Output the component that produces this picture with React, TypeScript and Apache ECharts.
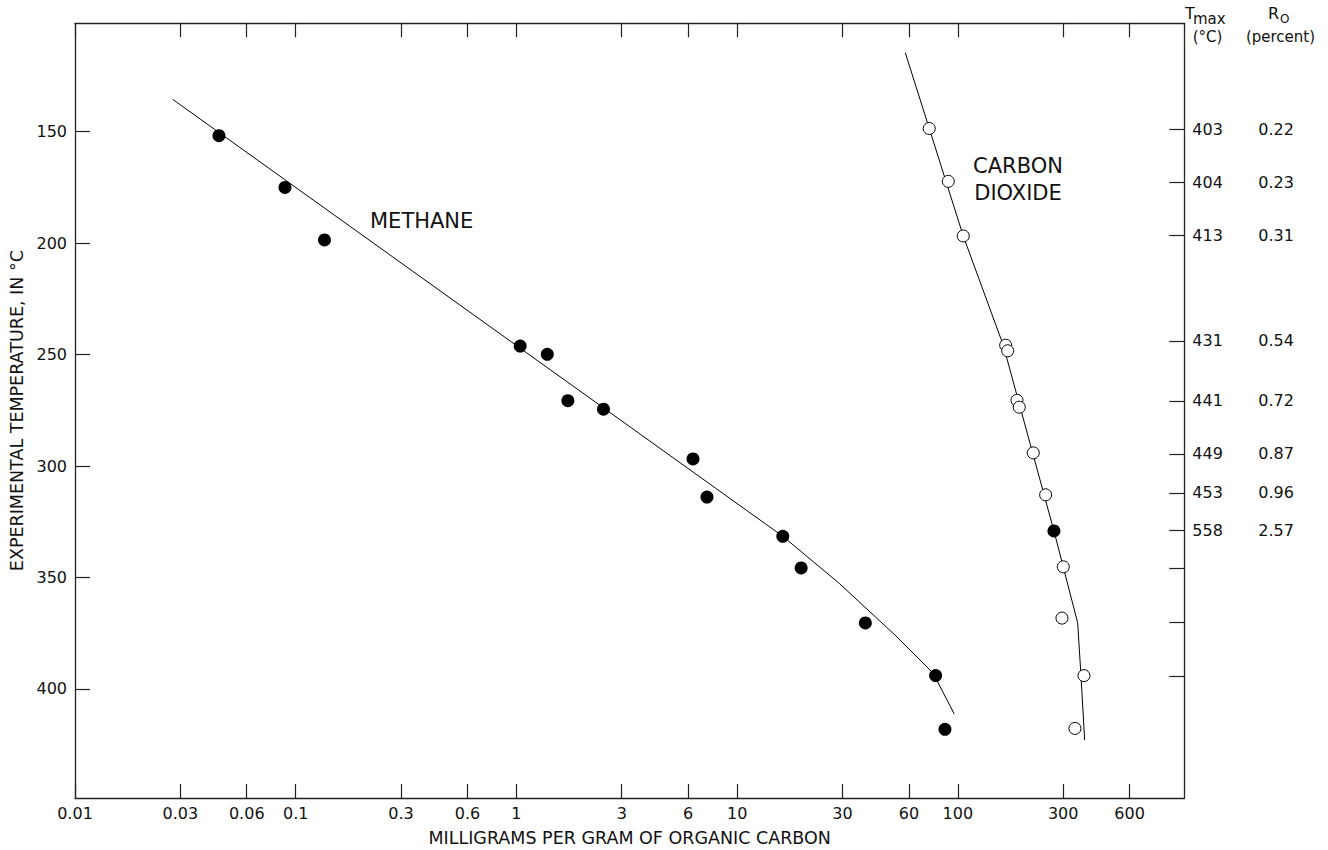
import React, { useEffect, useRef } from "react";
import * as echarts from "echarts";

// ---- Axis ticks ----
const xTickValues = [0.01, 0.03, 0.06, 0.1, 0.3, 0.6, 1, 3, 6, 10, 30, 60, 100, 300, 600];
const xTickLabels = ["0.01", "0.03", "0.06", "0.1", "0.3", "0.6", "1", "3", "6", "10", "30", "60", "100", "300", "600"];
const yTickValues = [150, 200, 250, 300, 350, 400];

// ---- Methane (filled dots) ----
const methaneMg = [0.0449, 0.0894, 0.135, 1.04, 1.38, 1.71, 2.48, 6.31, 7.3, 16.1, 19.5, 38.1, 79.3, 87.4];
const methaneTemp = [151.8, 175.0, 198.6, 246.2, 249.9, 270.7, 274.5, 296.8, 313.9, 331.5, 345.7, 370.4, 394.0, 418.1];
// Methane fitted curve
const methaneFitMg = [0.0277, 16.1, 29.0, 51.9, 77.4, 96.3];
const methaneFitTemp = [135.5, 331.5, 352.6, 375.8, 393.0, 411.2];

// ---- Carbon dioxide (open circles, one filled) ----
const co2OpenMg = [74.2, 90.5, 105.8, 164.7, 168.2, 185.3, 189.8, 219.6, 249.9, 300.4, 296.3, 372.7, 339.3];
const co2OpenTemp = [148.6, 172.3, 196.8, 245.8, 248.3, 270.5, 273.6, 294.1, 312.9, 345.2, 368.2, 394.0, 417.7];
const co2FilledMg = [272.5];
const co2FilledTemp = [329.1];
// CO2 fitted curve
const co2FitMg = [57.8, 105.8, 160.6, 272.5, 349.0, 361.3, 375.4];
const co2FitTemp = [114.6, 196.8, 245.8, 329.1, 370.3, 394.0, 422.9];

// ---- Right-hand scale: sample temperatures with Tmax and Ro ----
const sampleTemps = [148.9, 172.9, 196.4, 243.9, 270.8, 294.5, 312.0, 328.7, 345.9, 370.0, 394.2];
const tmaxLabels = ["403", "404", "413", "431", "441", "449", "453", "558"];
const roLabels = ["0.22", "0.23", "0.31", "0.54", "0.72", "0.87", "0.96", "2.57"];

const FONT = "DejaVu Sans";
const INK = "#111";
const LINE = "#222";

export default function App() {
  const ref = useRef<HTMLDivElement>(null);

  useEffect(() => {
    document.body.style.margin = "0";
    if (!ref.current) return;
    const chart = echarts.init(ref.current, undefined, { renderer: "svg" });

    const xLog = xTickValues.map((v) => Math.log10(v));
    const xFmt = (v: number) => {
      const i = xLog.findIndex((l) => Math.abs(l - v) < 1e-6);
      return i >= 0 ? xTickLabels[i] : "";
    };
    const labeledTemps = sampleTemps.slice(0, tmaxLabels.length);
    const idxOf = (v: number) => labeledTemps.findIndex((t) => Math.abs(t - v) < 1e-6);

    const toPts = (xs: number[], ys: number[]) => xs.map((x, i) => [Math.log10(x), ys[i]]);

    const yMin = 101.4;
    const yMax = 448.9;
    const xMin = -2;
    const xMax = 3.026;

    const axisLineStyle = { color: LINE, width: 1.3 };
    const tickStyle = { color: LINE, width: 1.2 };

    const option: any = {
      animation: false,
      textStyle: { fontFamily: FONT },
      grid: { left: 75, right: 143.7, top: 23.3, bottom: 52, outerBoundsMode: "none" },
      xAxis: [
        {
          type: "value",
          position: "bottom",
          min: xMin,
          max: xMax,
          splitLine: { show: false },
          axisLine: { show: true, onZero: false, lineStyle: axisLineStyle },
          axisTick: { show: true, inside: true, length: 14, customValues: xLog, lineStyle: tickStyle },
          axisLabel: { customValues: xLog, formatter: xFmt, fontSize: 16, color: INK, margin: 7, fontFamily: FONT },
          name: "MILLIGRAMS PER GRAM OF ORGANIC CARBON",
          nameLocation: "middle",
          nameGap: 31,
          nameMoveOverlap: false,
          nameTextStyle: { fontSize: 17.5, color: INK, fontFamily: FONT },
        },
        {
          type: "value",
          position: "top",
          min: xMin,
          max: xMax,
          splitLine: { show: false },
          axisLine: { show: true, onZero: false, lineStyle: axisLineStyle },
          axisTick: { show: true, inside: true, length: 14, customValues: xLog, lineStyle: tickStyle },
          axisLabel: { show: false },
        },
      ],
      yAxis: [
        {
          type: "value",
          position: "left",
          inverse: true,
          min: yMin,
          max: yMax,
          splitLine: { show: false },
          axisLine: { show: true, onZero: false, lineStyle: axisLineStyle },
          axisTick: { show: true, inside: true, length: 15, customValues: yTickValues, lineStyle: tickStyle },
          axisLabel: { customValues: yTickValues, fontSize: 16, color: INK, margin: 8, fontFamily: FONT },
          name: "EXPERIMENTAL TEMPERATURE, IN °C",
          nameLocation: "middle",
          nameGap: 49,
          nameMoveOverlap: false,
          nameTextStyle: { fontSize: 17.5, color: INK, fontFamily: FONT },
        },
        {
          type: "value",
          position: "right",
          inverse: true,
          min: yMin,
          max: yMax,
          splitLine: { show: false },
          axisLine: { show: true, onZero: false, lineStyle: axisLineStyle },
          axisTick: { show: true, inside: true, length: 15, customValues: sampleTemps, lineStyle: tickStyle },
          axisLabel: {
            customValues: labeledTemps,
            formatter: (v: number) => {
              const i = idxOf(v);
              return i >= 0 ? tmaxLabels[i] : "";
            },
            fontSize: 16,
            color: INK,
            margin: 8,
            fontFamily: FONT,
          },
        },
        {
          type: "value",
          position: "right",
          inverse: true,
          min: yMin,
          max: yMax,
          splitLine: { show: false },
          axisLine: { show: false },
          axisTick: { show: false },
          axisLabel: {
            customValues: labeledTemps,
            formatter: (v: number) => {
              const i = idxOf(v);
              return i >= 0 ? roLabels[i] : "";
            },
            fontSize: 16,
            color: INK,
            margin: 74,
            fontFamily: FONT,
          },
        },
      ],
      series: [
        {
          name: "Methane fit",
          type: "line",
          xAxisIndex: 0,
          yAxisIndex: 0,
          data: toPts(methaneFitMg, methaneFitTemp),
          showSymbol: false,
          lineStyle: { color: "#000", width: 1 },
          z: 2,
        },
        {
          name: "CO2 fit",
          type: "line",
          xAxisIndex: 0,
          yAxisIndex: 0,
          data: toPts(co2FitMg, co2FitTemp),
          showSymbol: false,
          lineStyle: { color: "#000", width: 1 },
          z: 2,
        },
        {
          name: "Methane",
          type: "scatter",
          xAxisIndex: 0,
          yAxisIndex: 0,
          data: toPts(methaneMg, methaneTemp),
          symbol: "circle",
          symbolSize: 13,
          itemStyle: { color: "#000", opacity: 1 },
          z: 3,
        },
        {
          name: "Carbon dioxide",
          type: "scatter",
          xAxisIndex: 0,
          yAxisIndex: 0,
          data: toPts(co2OpenMg, co2OpenTemp),
          symbol: "circle",
          symbolSize: 12,
          itemStyle: { color: "#fff", borderColor: "#000", borderWidth: 1, opacity: 1 },
          z: 3,
        },
        {
          name: "Carbon dioxide (filled)",
          type: "scatter",
          xAxisIndex: 0,
          yAxisIndex: 0,
          data: toPts(co2FilledMg, co2FilledTemp),
          symbol: "circle",
          symbolSize: 13,
          itemStyle: { color: "#000", opacity: 1 },
          z: 3,
        },
      ],
      graphic: [
        {
          type: "text",
          x: 370,
          y: 221,
          style: { text: "METHANE", fontSize: 21, fontFamily: FONT, fill: INK, align: "left", verticalAlign: "middle" },
        },
        {
          type: "text",
          x: 1018,
          y: 179.5,
          style: {
            text: "CARBON\nDIOXIDE",
            fontSize: 21,
            lineHeight: 26.5,
            fontFamily: FONT,
            fill: INK,
            align: "center",
            verticalAlign: "middle",
          },
        },
        { type: "text", x: 1185, y: 13, style: { text: "T", fontSize: 16, fontFamily: FONT, fill: INK, align: "left", verticalAlign: "middle" } },
        { type: "text", x: 1193, y: 19, style: { text: "max", fontSize: 15, fontFamily: FONT, fill: INK, align: "left", verticalAlign: "middle" } },
        { type: "text", x: 1207.5, y: 37, style: { text: "(°C)", fontSize: 15, fontFamily: FONT, fill: INK, align: "center", verticalAlign: "middle" } },
        { type: "text", x: 1268, y: 13, style: { text: "R", fontSize: 16, fontFamily: FONT, fill: INK, align: "left", verticalAlign: "middle" } },
        { type: "text", x: 1280, y: 19, style: { text: "O", fontSize: 12, fontFamily: FONT, fill: INK, align: "left", verticalAlign: "middle" } },
        { type: "text", x: 1280.5, y: 37, style: { text: "(percent)", fontSize: 15, fontFamily: FONT, fill: INK, align: "center", verticalAlign: "middle" } },
      ],
    };

    chart.setOption(option);
    return () => chart.dispose();
  }, []);

  return <div ref={ref} style={{ width: 1328, height: 850, background: "#fff" }} />;
}
